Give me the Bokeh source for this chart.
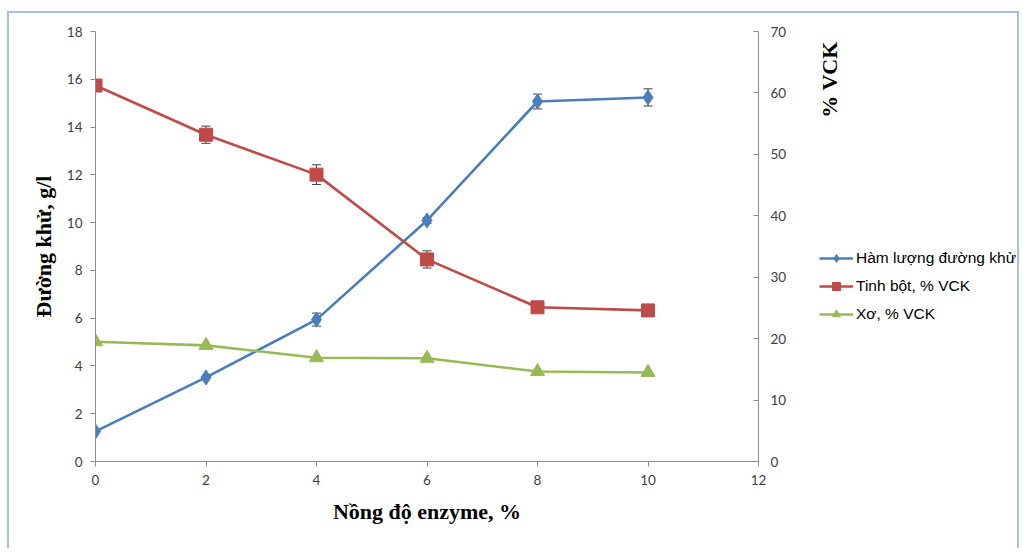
import numpy as np
from bokeh.plotting import figure
from bokeh.layouts import row
from bokeh.models import (ColumnDataSource, Range1d, LinearAxis, Whisker, TeeHead,
                          Legend, LegendItem, Label, FixedTicker)
from bokeh.embed import file_html
from bokeh.resources import INLINE

# ---- data ----
enzyme = [0, 2, 4, 6, 8, 10]
duong_khu = [1.26, 3.52, 5.94, 10.09, 15.07, 15.24]      # g/l, left axis
duong_khu_err = [0.0, 0.0, 0.27, 0.12, 0.31, 0.36]
tinh_bot = [61.2, 53.2, 46.7, 32.9, 25.1, 24.6]          # % VCK, right axis
tinh_bot_err = [0.0, 1.4, 1.6, 1.4, 0.0, 0.0]
xo = [19.5, 18.9, 16.9, 16.8, 14.65, 14.5]                # % VCK, right axis

series_labels = ["Hàm lượng đường khử", "Tinh bột, % VCK", "Xơ, % VCK"]
x_ticks = [0, 2, 4, 6, 8, 10, 12]
left_ticks = [0, 2, 4, 6, 8, 10, 12, 14, 16, 18]
right_ticks = [0, 10, 20, 30, 40, 50, 60, 70]

BLUE = "#4a7ebb"
RED = "#be4b48"
GREEN = "#98b954"
AXIS = "#8c8c8c"
TICKTXT = "#404040"

H = 535
p = figure(width=795, height=H, output_backend="svg", toolbar_location=None,
           x_range=Range1d(0, 12), y_range=Range1d(0, 18),
           min_border_left=86, min_border_top=18, min_border_right=46, min_border_bottom=87)
p.frame_width = 663
p.frame_height = 430
p.extra_y_ranges = {"right": Range1d(0, 70)}
p.outline_line_color = None
p.xgrid.visible = False
p.ygrid.visible = False

for ax in (p.xaxis[0], p.yaxis[0]):
    ax.axis_line_color = AXIS
    ax.major_tick_line_color = AXIS
    ax.minor_tick_line_color = None
    ax.major_tick_in = 0
    ax.major_tick_out = 5
    ax.major_label_text_font = "Lato"
    ax.major_label_text_font_size = "13.5px"
    ax.major_label_text_color = TICKTXT
    ax.axis_label_text_font = "Liberation Serif"
    ax.axis_label_text_font_style = "bold"
    ax.axis_label_text_font_size = "22px"
    ax.axis_label_text_color = "black"

p.xaxis[0].ticker = FixedTicker(ticks=x_ticks)
p.yaxis[0].ticker = FixedTicker(ticks=left_ticks)
p.xaxis[0].axis_label = "Nồng độ enzyme, %"
p.yaxis[0].axis_label = "Đường khử, g/l"
p.xaxis[0].major_label_standoff = 8
p.xaxis[0].axis_label_standoff = 11
p.yaxis[0].major_label_standoff = 8
p.yaxis[0].axis_label_standoff = 8

ra = LinearAxis(y_range_name="right", ticker=FixedTicker(ticks=right_ticks))
ra.axis_line_color = AXIS
ra.major_tick_line_color = AXIS
ra.minor_tick_line_color = None
ra.major_tick_in = 5
ra.major_tick_out = 0
ra.major_label_standoff = 12
ra.major_label_text_font = "Lato"
ra.major_label_text_font_size = "13.5px"
ra.major_label_text_color = TICKTXT
p.add_layout(ra, "right")

# error bars
src_b = ColumnDataSource(dict(x=[e for e, d in zip(enzyme, duong_khu_err) if d > 0],
                              lo=[v - d for v, d in zip(duong_khu, duong_khu_err) if d > 0],
                              hi=[v + d for v, d in zip(duong_khu, duong_khu_err) if d > 0]))
src_r = ColumnDataSource(dict(x=[e for e, d in zip(enzyme, tinh_bot_err) if d > 0],
                              lo=[v - d for v, d in zip(tinh_bot, tinh_bot_err) if d > 0],
                              hi=[v + d for v, d in zip(tinh_bot, tinh_bot_err) if d > 0]))
for src, rn in ((src_b, "default"), (src_r, "right")):
    w = Whisker(source=src, base="x", lower="lo", upper="hi", y_range_name=rn,
                line_color="#404040", line_width=1, level="underlay",
                upper_head=TeeHead(size=9, line_color="#404040", line_width=1),
                lower_head=TeeHead(size=9, line_color="#404040", line_width=1))
    p.add_layout(w)

# series
p.line(enzyme, duong_khu, line_color=BLUE, line_width=2.6)
p.scatter(enzyme, duong_khu, marker="diamond", size=15, fill_color=BLUE, line_color=BLUE)
p.line(enzyme, tinh_bot, line_color=RED, line_width=2.6, y_range_name="right")
p.scatter(enzyme, tinh_bot, marker="square", size=13, fill_color=RED, line_color=RED,
          y_range_name="right")
p.line(enzyme, xo, line_color=GREEN, line_width=2.6, y_range_name="right")
p.scatter(enzyme, xo, marker="triangle", size=14, fill_color=GREEN, line_color=GREEN,
          y_range_name="right")

# side panel: right-axis title and legend (series drawn off-range, only for legend glyphs)
p2 = figure(width=213, height=H, output_backend="svg", toolbar_location=None,
            x_range=Range1d(0, 1), y_range=Range1d(0, 1),
            min_border=0, x_axis_type=None, y_axis_type=None)
p2.extra_x_ranges = {"off": Range1d(1000, 1001)}
p2.outline_line_color = None
p2.xgrid.visible = False
p2.ygrid.visible = False
k1 = p2.line(enzyme, duong_khu, line_color=BLUE, line_width=2.6, x_range_name="off")
s1 = p2.scatter(enzyme, duong_khu, marker="diamond", size=11, fill_color=BLUE,
                line_color=BLUE, x_range_name="off")
k2 = p2.line(enzyme, tinh_bot, line_color=RED, line_width=2.6, x_range_name="off")
s2 = p2.scatter(enzyme, tinh_bot, marker="square", size=10, fill_color=RED,
                line_color=RED, x_range_name="off")
k3 = p2.line(enzyme, xo, line_color=GREEN, line_width=2.6, x_range_name="off")
s3 = p2.scatter(enzyme, xo, marker="triangle", size=11, fill_color=GREEN,
                line_color=GREEN, x_range_name="off")

legend = Legend(items=[LegendItem(label=series_labels[0], renderers=[k1, s1]),
                       LegendItem(label=series_labels[1], renderers=[k2, s2]),
                       LegendItem(label=series_labels[2], renderers=[k3, s3])],
                location=(15, 137), orientation="vertical",
                glyph_width=34, glyph_height=20, label_height=20, spacing=8,
                label_standoff=3, padding=0, margin=0,
                label_text_font="Liberation Sans", label_text_font_size="15.5px",
                label_text_color="black",
                background_fill_alpha=0, border_line_color=None)
p2.add_layout(legend, "center")
p2.add_layout(Label(x=25, y=382, x_units="screen", y_units="screen", text="% VCK",
                    angle=np.pi / 2, text_align="center", text_baseline="middle",
                    text_font="Liberation Serif", text_font_style="bold",
                    text_font_size="22px", text_color="black"))

layout = row(p, p2, spacing=0)
layout.styles = {"border-top": "2px solid #a7bfe3", "border-left": "2px solid #a7bfe3",
                 "border-right": "2px solid #a7bfe3", "margin-left": "7px",
                 "margin-top": "11px"}

open("out.html", "w").write(file_html(layout, INLINE))
